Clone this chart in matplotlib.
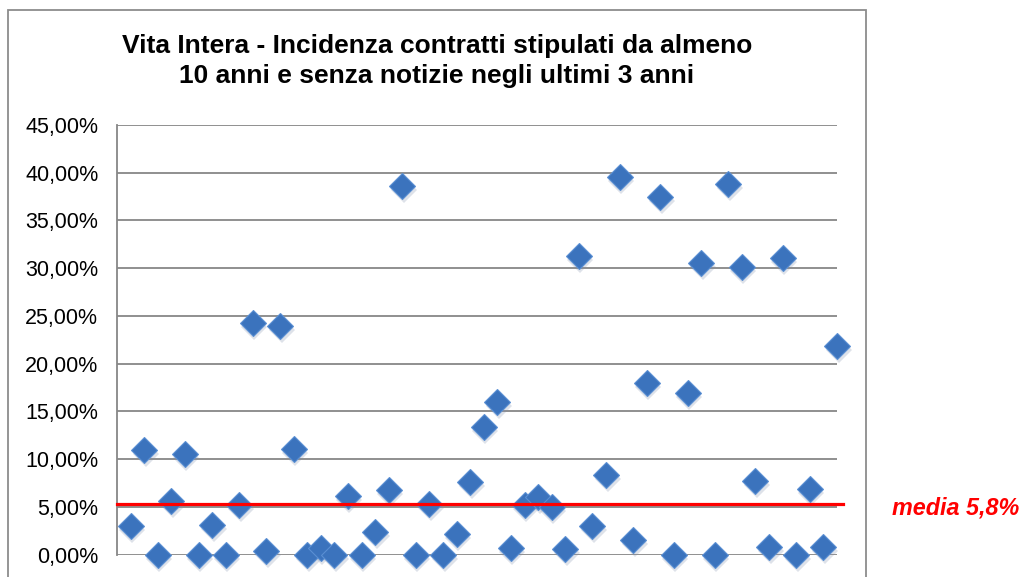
import matplotlib.pyplot as plt
import matplotlib.transforms as mtransforms
from matplotlib.patches import Rectangle
from matplotlib.ticker import FuncFormatter, MultipleLocator
import numpy as np

plt.rcParams['font.family'] = ['Liberation Sans', 'DejaVu Sans']

# incidenza per ciascuna osservazione (%), ordine da sinistra a destra
incidenza = [3.0, 10.9, 0.0, 5.6, 10.5, 0.0, 3.1, 0.0, 5.2, 24.3,
             0.4, 23.9, 11.05, 0.0, 0.7, 0.0, 6.1, 0.0, 2.4, 6.8,
             38.65, 0.0, 5.3, 0.0, 2.15, 7.6, 13.4, 16.0, 0.65, 5.2,
             6.0, 5.0, 0.55, 31.3, 3.0, 8.3, 39.6, 1.5, 18.0, 37.5,
             0.0, 16.95, 30.5, 0.0, 38.8, 30.1, 7.7, 0.75, 31.1, 0.0,
             6.9, 0.8, 21.85]
posizione = list(range(1, len(incidenza) + 1))
media_linea = 5.3
media_label = "media 5,8%"
titolo = "Vita Intera - Incidenza contratti stipulati da almeno\n10 anni e senza notizie negli ultimi 3 anni"

W, H = 1021, 577
fig = plt.figure(figsize=(W / 100, H / 100), dpi=100)
ax = fig.add_axes([117 / W, 1 - 554.5 / H, (837 - 117) / W, (554.5 - 125) / H])

# cornice esterna del grafico
frame = Rectangle((8 / W, -0.1), (866 - 8) / W, 1 - 10 / H + 0.1,
                  transform=fig.transFigure, fill=False, edgecolor='#8c8c8c', linewidth=1.3)
fig.add_artist(frame)

# ombra dei marker
shadow = mtransforms.offset_copy(ax.transData, fig=fig, x=1.5, y=-4, units='dots')
ax.plot(posizione, incidenza, linestyle='none', marker='D', markersize=13.5,
        color='#7f8ea8', alpha=0.25, markeredgewidth=0, transform=shadow, clip_on=False, zorder=3)
ax.plot(posizione, incidenza, linestyle='none', marker='D', markersize=13,
        markerfacecolor='#3b73bd', markeredgecolor='#5a8fd3', markeredgewidth=0.8,
        clip_on=False, zorder=4)

# linea della media
ax.plot([0, 53.45], [media_linea, media_linea], color='#ff0000', linewidth=2.3,
        clip_on=False, zorder=5)
fig.text(892 / W, 1 - 508 / H, media_label, color='#ff0000', fontsize=16.8,
         fontweight='bold', fontstyle='italic', ha='left', va='center')

ax.set_xlim(0, 53)
ax.set_ylim(0, 45)
ax.yaxis.set_major_locator(MultipleLocator(5))
ax.yaxis.set_major_formatter(FuncFormatter(lambda v, p: f"{v:.2f}%".replace('.', ',')))
ax.grid(axis='y', color='#878787', linewidth=1.3)
ax.set_axisbelow(True)
ax.set_xticks([])
ax.tick_params(axis='y', length=0, pad=13.5, labelsize=15.5)
for s in ['top', 'right', 'bottom']:
    ax.spines[s].set_visible(False)
ax.spines['left'].set_color('#878787')
ax.spines['left'].set_linewidth(1.3)

fig.text(437 / W, 1 - 61 / H, titolo, ha='center', va='center', fontsize=19,
         fontweight='bold', linespacing=1.3)

plt.savefig('out.png', dpi=100)
